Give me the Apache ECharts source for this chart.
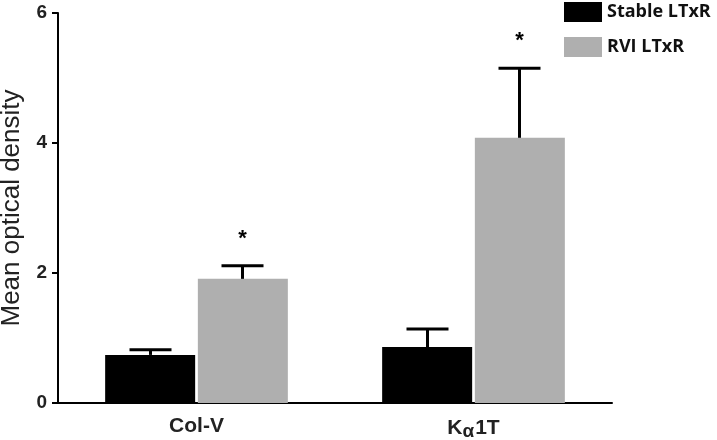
<!DOCTYPE html>
<html>
<head>
<meta charset="utf-8">
<script src="https://cdn.jsdelivr.net/npm/echarts@6/dist/echarts.min.js"></script>
<style>
  html, body { margin: 0; padding: 0; background: #fff; }
  #chart { width: 717px; height: 440px; }
</style>
</head>
<body>
<div id="chart"></div>
<script>
const categories = ['Col-V', 'Kα1T'];
const seriesNames = ['Stable LTxR', 'RVI LTxR'];
const stableValues = [0.74, 0.86];
const stableErrors = [0.08, 0.28];
const rviValues = [1.91, 4.08];
const rviErrors = [0.2, 1.07];
const rviSignificant = [true, true];
const yTicks = [0, 2, 4, 6];

const FONT = 'Liberation Sans';
const chart = echarts.init(document.getElementById('chart'));

// 误差线 + 显著性星号
function errorSeries(values, errors, sig, offset) {
    return {
        type: 'custom',
        z: 5,
        silent: true,
        data: values.map((v, i) => [i, v, v + errors[i], sig && sig[i] ? 1 : 0]),
        renderItem(params, api) {
            const base = api.coord([api.value(0), api.value(1)]);
            const top = api.coord([api.value(0), api.value(2)]);
            const x = base[0] + offset;
            const half = 21;
            const style = { stroke: '#000', lineWidth: 3 };
            const children = [
                { type: 'line', shape: { x1: x, y1: base[1], x2: x, y2: top[1] }, style },
                { type: 'line', shape: { x1: x - half, y1: top[1], x2: x + half, y2: top[1] }, style }
            ];
            if (api.value(3)) {
                children.push({
                    type: 'text',
                    style: {
                        text: '*', x: x, y: top[1] - 27,
                        fill: '#000', font: 'bold 22px ' + FONT,
                        align: 'center', verticalAlign: 'middle'
                    }
                });
            }
            return { type: 'group', children };
        }
    };
}

const option = {
    animation: false,
    backgroundColor: '#fff',
    grid: { left: 58, top: 13, right: 105, bottom: 37, outerBoundsMode: 'none' },
    legend: {
        data: seriesNames,
        orient: 'vertical',
        left: 564,
        top: 2,
        padding: 0,
        itemWidth: 38,
        itemHeight: 20,
        itemGap: 15,
        icon: 'rect',
        textStyle: { fontFamily: 'Open Sans', fontWeight: 'bold', fontSize: 18, color: '#111' }
    },
    xAxis: {
        type: 'category',
        data: categories,
        axisLine: { lineStyle: { color: '#000', width: 2 } },
        axisTick: { alignWithLabel: true, length: 6, lineStyle: { color: '#000', width: 2 } },
        axisLabel: {
            margin: 13,
            fontFamily: FONT,
            fontSize: 21,
            fontWeight: 'bold',
            color: '#222',
            formatter: v => v === 'Kα1T' ? 'K{a|α}1T' : v,
            rich: {
                a: { fontSize: 19, fontWeight: 'bold', color: '#222', padding: [6, 1, 0, 0], fontFamily: FONT }
            }
        }
    },
    yAxis: {
        type: 'value',
        min: yTicks[0],
        max: yTicks[yTicks.length - 1],
        interval: 2,
        name: 'Mean optical density',
        nameLocation: 'middle',
        nameGap: 33,
        nameTextStyle: { fontFamily: FONT, fontSize: 26, color: '#222' },
        axisLine: { show: true, lineStyle: { color: '#000', width: 2 } },
        axisTick: { show: true, length: 6, lineStyle: { color: '#000', width: 2 } },
        axisLabel: { margin: 11, fontFamily: FONT, fontSize: 19, fontWeight: 'bold', color: '#222' },
        splitLine: { show: false }
    },
    series: [
        {
            name: seriesNames[0],
            type: 'bar',
            data: stableValues,
            barWidth: 90,
            barGap: '3%',
            itemStyle: { color: '#000' }
        },
        {
            name: seriesNames[1],
            type: 'bar',
            data: rviValues,
            barWidth: 90,
            itemStyle: { color: '#afafaf' }
        },
        errorSeries(stableValues, stableErrors, null, -46),
        errorSeries(rviValues, rviErrors, rviSignificant, 46)
    ]
};

chart.setOption(option);
</script>
</body>
</html>
